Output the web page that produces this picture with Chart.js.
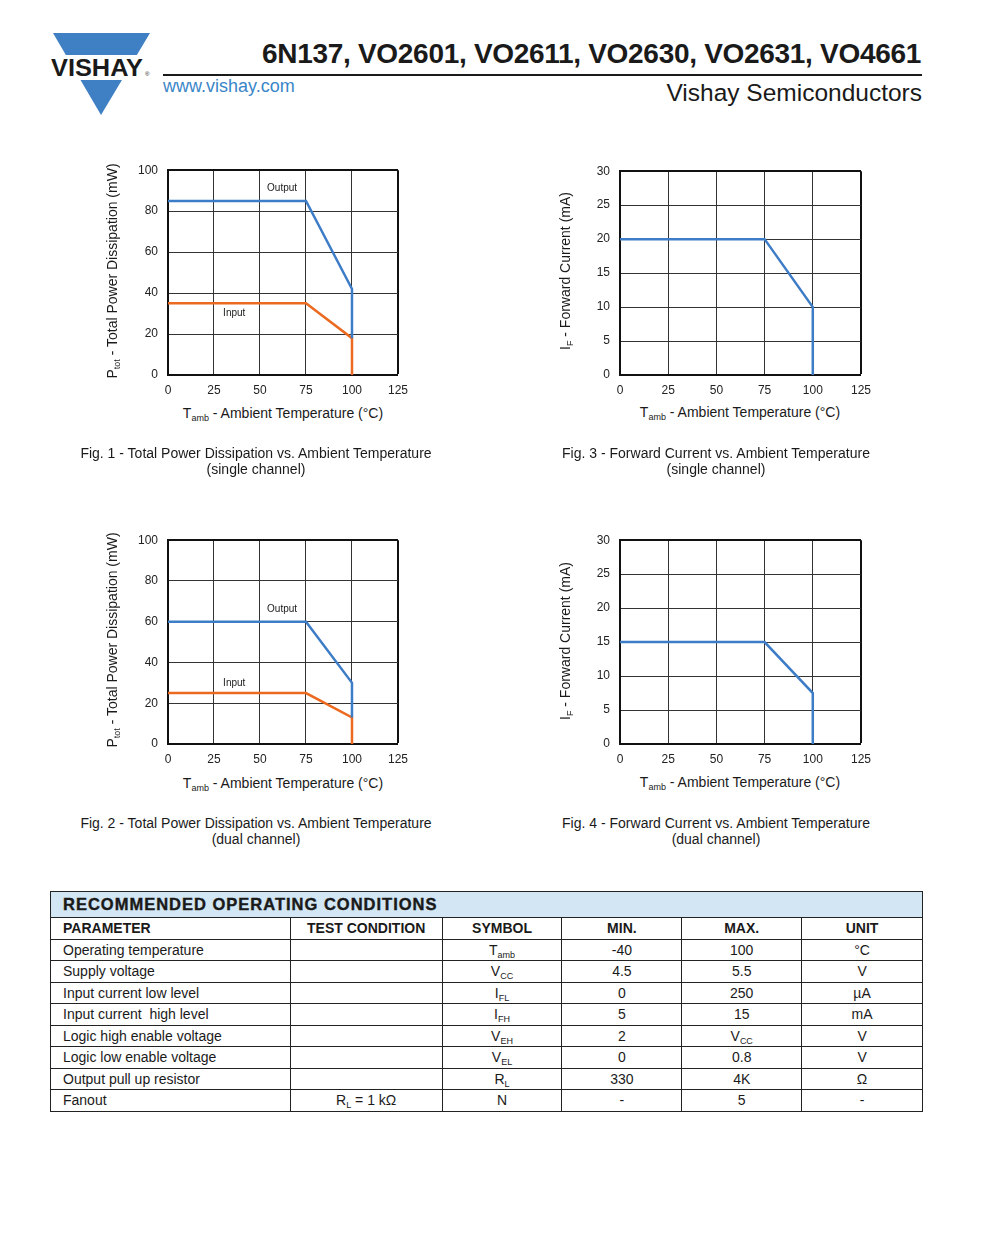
<!DOCTYPE html>
<html>
<head>
<meta charset="utf-8">
<script src="https://cdn.jsdelivr.net/npm/chart.js@4.4.1/dist/chart.umd.min.js"></script>
<style>
    body { margin: 0; background: #fff; font-family: "Liberation Sans", Arial, sans-serif; color: #1a1a1a; }
    #page { position: relative; width: 1000px; height: 1250px; overflow: hidden; }
    .abs { position: absolute; white-space: nowrap; }
    canvas.fig { position: absolute; }
    .ytitle { position: absolute; width: 280px; text-align: center; font-size: 14px; transform: rotate(-90deg); transform-origin: 50% 50%; }
    .xtitle { position: absolute; width: 300px; text-align: center; font-size: 14px; }
    .caption { position: absolute; width: 440px; text-align: center; font-size: 14px; line-height: 16px; }
    sub { font-size: 9px; vertical-align: -3px; line-height: 0; }
    table.roc { position: absolute; left: 50px; top: 891px; width: 873px; border-collapse: collapse; font-size: 14px; }
    table.roc td { border: 1px solid #222; padding: 0; height: 20.5px; text-align: center; }
    table.roc td.l { text-align: left; padding-left: 12px; }
    table.roc tr.head td { background: #d3e6f3; height: 25px; font-weight: 900; font-size: 16.5px; text-align: left; padding-left: 12px; letter-spacing: 1px; -webkit-text-stroke: 0.4px #1a1a1a; border-bottom: 1.5px solid #222; }
    table.roc tr.cols td { font-weight: bold; font-size: 14px; }
</style>
</head>
<body>
<div id="page">
    <!-- header -->
    <svg class="abs" style="left:48px;top:30px" width="110" height="90">
        <polygon points="5,3 102,3 53,85" fill="#3f7fc4"/>
        <rect x="0" y="25" width="110" height="25" fill="#fff"/>
        <text x="3" y="46" font-family="Liberation Sans, Arial" font-weight="bold" font-size="24" textLength="92" lengthAdjust="spacingAndGlyphs" fill="#1a1a1a">VISHAY</text>
        <text x="97" y="46" font-family="Liberation Sans, Arial" font-size="6" fill="#1a1a1a">®</text>
    </svg>
    <div class="abs" style="right:79px;top:38px;font-size:28px;font-weight:bold;letter-spacing:-0.3px">6N137, VO2601, VO2611, VO2630, VO2631, VO4661</div>
    <div class="abs" style="left:163px;top:74px;width:759px;height:2px;background:#1a1a1a"></div>
    <div class="abs" style="left:163px;top:76px;font-size:18px;color:#3a86c8">www.vishay.com</div>
    <div class="abs" style="right:78px;top:79px;font-size:24.5px">Vishay Semiconductors</div>

    <canvas class="fig" id="fig1" width="316" height="247" style="left:100px;top:153px"></canvas>
    <canvas class="fig" id="fig3" width="327" height="246" style="left:552px;top:154px"></canvas>
    <canvas class="fig" id="fig2" width="316" height="246" style="left:100px;top:523px"></canvas>
    <canvas class="fig" id="fig4" width="327" height="246" style="left:552px;top:523px"></canvas>

    <div class="ytitle" style="left:-28px;top:263px">P<sub>tot</sub> - Total Power Dissipation (mW)</div>
    <div class="ytitle" style="left:-28px;top:632px">P<sub>tot</sub> - Total Power Dissipation (mW)</div>
    <div class="ytitle" style="left:425px;top:263px">I<sub>F</sub> - Forward Current (mA)</div>
    <div class="ytitle" style="left:425px;top:633px">I<sub>F</sub> - Forward Current (mA)</div>

    <div class="xtitle" style="left:133px;top:405px">T<sub>amb</sub> - Ambient Temperature (°C)</div>
    <div class="xtitle" style="left:133px;top:775px">T<sub>amb</sub> - Ambient Temperature (°C)</div>
    <div class="xtitle" style="left:590px;top:404px">T<sub>amb</sub> - Ambient Temperature (°C)</div>
    <div class="xtitle" style="left:590px;top:774px">T<sub>amb</sub> - Ambient Temperature (°C)</div>

    <div class="caption" style="left:36px;top:445px">Fig. 1 - Total Power Dissipation vs. Ambient Temperature<br>(single channel)</div>
    <div class="caption" style="left:496px;top:445px">Fig. 3 - Forward Current vs. Ambient Temperature<br>(single channel)</div>
    <div class="caption" style="left:36px;top:815px">Fig. 2 - Total Power Dissipation vs. Ambient Temperature<br>(dual channel)</div>
    <div class="caption" style="left:496px;top:815px">Fig. 4 - Forward Current vs. Ambient Temperature<br>(dual channel)</div>

    <table class="roc">
        <colgroup>
            <col style="width:240px"><col style="width:152px"><col style="width:120px">
            <col style="width:120px"><col style="width:120px"><col style="width:121px">
        </colgroup>
        <tr class="head"><td colspan="6">RECOMMENDED OPERATING CONDITIONS</td></tr>
        <tr class="cols"><td class="l">PARAMETER</td><td>TEST CONDITION</td><td>SYMBOL</td><td>MIN.</td><td>MAX.</td><td>UNIT</td></tr>
        <tr><td class="l">Operating temperature</td><td></td><td>T<sub>amb</sub></td><td>-40</td><td>100</td><td>°C</td></tr>
        <tr><td class="l">Supply voltage</td><td></td><td>V<sub>CC</sub></td><td>4.5</td><td>5.5</td><td>V</td></tr>
        <tr><td class="l">Input current low level</td><td></td><td>I<sub>FL</sub></td><td>0</td><td>250</td><td>µA</td></tr>
        <tr><td class="l">Input current&nbsp; high level</td><td></td><td>I<sub>FH</sub></td><td>5</td><td>15</td><td>mA</td></tr>
        <tr><td class="l">Logic high enable voltage</td><td></td><td>V<sub>EH</sub></td><td>2</td><td>V<sub>CC</sub></td><td>V</td></tr>
        <tr><td class="l">Logic low enable voltage</td><td></td><td>V<sub>EL</sub></td><td>0</td><td>0.8</td><td>V</td></tr>
        <tr><td class="l">Output pull up resistor</td><td></td><td>R<sub>L</sub></td><td>330</td><td>4K</td><td>Ω</td></tr>
        <tr><td class="l">Fanout</td><td>R<sub>L</sub> = 1 kΩ</td><td>N</td><td>-</td><td>5</td><td>-</td></tr>
    </table>
</div>

<script>
    // derating curves
    const tempAxis = [0, 75, 100, 100];          // T_amb (°C) break points
    const xTicks = [0, 25, 50, 75, 100, 125];

    const fig1Output = [85, 85, 42, 18];         // mW, single channel
    const fig1Input = [35, 35, 18, 0];
    const fig2Output = [60, 60, 30, 13];         // mW, dual channel
    const fig2Input = [25, 25, 13, 0];
    const fig3Current = [20, 20, 10, 0];         // mA, single channel
    const fig4Current = [15, 15, 7.5, 0];        // mA, dual channel

    const powerTicks = [0, 20, 40, 60, 80, 100];
    const currentTicks = [0, 5, 10, 15, 20, 25, 30];

    const fig1Notes = [{ text: 'Output', x: 62, y: 91 }, { text: 'Input', x: 36, y: 30 }];
    const fig2Notes = [{ text: 'Output', x: 62, y: 66 }, { text: 'Input', x: 36, y: 30 }];

    const BLUE = '#3d7cc6';
    const ORANGE = '#ec6a1f';
    const FONT = '"Liberation Sans", Arial, sans-serif';

    const notePlugin = {
        id: 'notes',
        afterDatasetsDraw(chart, args, opts) {
            const ctx = chart.ctx;
            ctx.save();
            ctx.font = '10px ' + FONT;
            ctx.fillStyle = '#1a1a1a';
            ctx.textAlign = 'center';
            ctx.textBaseline = 'middle';
            (opts.items || []).forEach((n) => {
                ctx.fillText(n.text, chart.scales.x.getPixelForValue(n.x), chart.scales.y.getPixelForValue(n.y));
            });
            ctx.restore();
        },
    };

    function series(ys, color) {
        return {
            data: tempAxis.map((x, i) => ({ x: x, y: ys[i] })),
            showLine: true,
            borderColor: color,
            borderWidth: 2.5,
            pointRadius: 0,
            tension: 0,
            clip: 4,
        };
    }

    function makeChart(id, yTicks, datasets, notes) {
        const yMax = yTicks[yTicks.length - 1];
        const gridColor = (c, max) => (c.tick && c.tick.value === max ? '#111' : '#333');
        new Chart(document.getElementById(id), {
            type: 'scatter',
            data: { datasets: datasets },
            plugins: [notePlugin],
            options: {
                responsive: false,
                animation: false,
                devicePixelRatio: 1,
                layout: { padding: 0 },
                plugins: { legend: { display: false }, tooltip: { enabled: false }, notes: { items: notes } },
                scales: {
                    x: {
                        type: 'linear',
                        min: 0,
                        max: 125,
                        afterBuildTicks: (s) => { s.ticks = xTicks.map((v) => ({ value: v })); },
                        afterFit: (s) => { s.height = 25; },
                        grid: {
                            drawTicks: false,
                            color: (c) => gridColor(c, 125),
                            lineWidth: (c) => (c.tick && c.tick.value === 125 ? 2 : 1),
                        },
                        border: { color: '#111', width: 2 },
                        ticks: { padding: 8, color: '#222', font: { size: 12, family: FONT } },
                    },
                    y: {
                        type: 'linear',
                        min: 0,
                        max: yMax,
                        afterBuildTicks: (s) => { s.ticks = yTicks.map((v) => ({ value: v })); },
                        afterFit: (s) => { s.width = 68; },
                        grid: {
                            drawTicks: false,
                            color: (c) => gridColor(c, yMax),
                            lineWidth: (c) => (c.tick && c.tick.value === yMax ? 2 : 1),
                        },
                        border: { color: '#111', width: 2 },
                        ticks: { padding: 10, color: '#222', font: { size: 12, family: FONT } },
                    },
                },
            },
        });
    }

    makeChart('fig1', powerTicks, [series(fig1Output, BLUE), series(fig1Input, ORANGE)], fig1Notes);
    makeChart('fig2', powerTicks, [series(fig2Output, BLUE), series(fig2Input, ORANGE)], fig2Notes);
    makeChart('fig3', currentTicks, [series(fig3Current, BLUE)], []);
    makeChart('fig4', currentTicks, [series(fig4Current, BLUE)], []);
</script>
</body>
</html>
